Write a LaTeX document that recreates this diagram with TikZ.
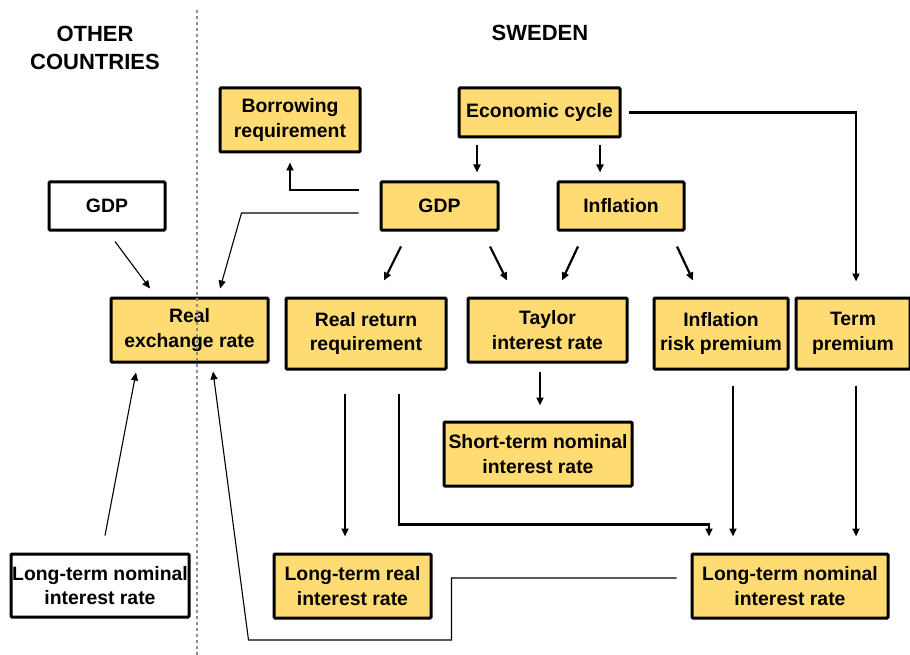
\documentclass[tikz,border=0pt]{standalone}
\usepackage{fontspec}
\setmainfont{Liberation Sans}
\newfontfamily\labelfont{Liberation Sans Bold}
\usetikzlibrary{arrows.meta}
\definecolor{boxyellow}{RGB}{255,220,115}
\definecolor{dividergray}{RGB}{140,140,140}

\begin{document}
\begin{tikzpicture}[x=1pt,y=1pt,
        box/.style={draw,line width=3pt,fill=boxyellow,rounded corners=1pt,inner sep=0pt,align=center,
            font=\labelfont\fontsize{19.4}{24.5}\selectfont},
        plainbox/.style={box,fill=white},
        heading/.style={align=center,font=\labelfont\fontsize{22}{28}\selectfont},
        arr/.style={line width=2.2pt,-{Triangle[length=8pt,width=7pt]}},
        thinarr/.style={line width=1.1pt,-{Triangle[length=8pt,width=7pt]}}]
                \useasboundingbox (0,0) rectangle (910,-655);

                \coordinate (DividerTop) at (197,-10);
                \coordinate (DividerBottom) at (197,-655);

                \node[heading] (OtherHeading) at (95,-48) {OTHER\\COUNTRIES};
                \node[heading] (SwedenHeading) at (540,-33) {SWEDEN};

                \node[box,minimum width=140pt,minimum height=64pt] (Borrowing) at (290,-120) {Borrowing\\requirement};
                \node[box,minimum width=161pt,minimum height=49pt] (EconomicCycle) at (539.5,-112.5) {Economic cycle};
                \node[plainbox,minimum width=116pt,minimum height=48pt] (OtherGDP) at (107,-206) {GDP};
                \node[box,minimum width=117pt,minimum height=48pt] (SwedenGDP) at (439.5,-206) {GDP};
                \node[box,minimum width=126pt,minimum height=48pt] (Inflation) at (621,-206) {Inflation};
                \node[box,minimum width=157pt,minimum height=64pt] (RealExchange) at (189.5,-330) {Real\\exchange rate};
                \node[box,minimum width=160pt,minimum height=71pt] (RealReturn) at (366,-333.5) {Real return\\requirement};
                \node[box,minimum width=159pt,minimum height=64pt] (Taylor) at (547.5,-330) {Taylor\\interest rate};
                \node[box,minimum width=134pt,minimum height=71pt] (InflationRisk) at (721,-333.5) {Inflation\\risk premium};
                \node[box,minimum width=114pt,minimum height=71pt] (TermPremium) at (853,-333.5) {Term\\premium};
                \node[box,minimum width=188pt,minimum height=64pt] (ShortTerm) at (538,-454) {Short-term nominal\\interest rate};
                \node[box,minimum width=157pt,minimum height=64pt] (LongReal) at (352.5,-586) {Long-term real\\interest rate};
                \node[box,minimum width=196pt,minimum height=64pt] (LongNominal) at (790,-586) {Long-term nominal\\interest rate};
                \node[plainbox,minimum width=178pt,minimum height=63pt] (OtherLongNominal) at (100,-585.5) {Long-term nominal\\interest rate};

                \draw[dividergray,line width=1.2pt,dash pattern=on 3pt off 3pt] (DividerTop)--(DividerBottom);

                \draw[arr] ([xshift=-62.5pt,yshift=-7pt]EconomicCycle.south)--([xshift=37.5pt,yshift=8pt]SwedenGDP.north);
                \draw[arr] ([xshift=60.5pt,yshift=-7pt]EconomicCycle.south)--([xshift=-21pt,yshift=8pt]Inflation.north);
                \draw[arr] ([xshift=7pt]EconomicCycle.east)-|([xshift=3pt,yshift=15pt]TermPremium.north);
                \draw[arr] ([xshift=-21pt,yshift=16pt]SwedenGDP.west)-|([yshift=-9pt]Borrowing.south);
                \draw[thinarr] ([xshift=-21pt,yshift=-7pt]SwedenGDP.west)--++(-117,0)--([xshift=30.5pt,yshift=8pt]RealExchange.north);
                \draw[thinarr] ([xshift=8pt,yshift=-10pt]OtherGDP.south)--([xshift=-39.5pt,yshift=8pt]RealExchange.north);
                \draw[arr] ([xshift=-38.5pt,yshift=-15pt]SwedenGDP.south)--([xshift=18pt,yshift=16pt]RealReturn.north);
                \draw[arr] ([xshift=50.5pt,yshift=-15pt]SwedenGDP.south)--([xshift=-40.5pt,yshift=16pt]Taylor.north);
                \draw[arr] ([xshift=-43pt,yshift=-15pt]Inflation.south)--([xshift=14.5pt,yshift=16pt]Taylor.north);
                \draw[arr] ([xshift=56pt,yshift=-15pt]Inflation.south)--([xshift=-28pt,yshift=16pt]InflationRisk.north);
                \draw[arr] ([xshift=-7.5pt,yshift=-8pt]Taylor.south)--([xshift=2pt,yshift=15pt]ShortTerm.north);
                \draw[arr] ([xshift=-21pt,yshift=-23pt]RealReturn.south)--([xshift=-7.5pt,yshift=16pt]LongReal.north);
                \draw[arr] ([xshift=33pt,yshift=-23pt]RealReturn.south)--++(0,-131)-|([xshift=-81pt,yshift=16pt]LongNominal.north);
                \draw[arr] ([xshift=12pt,yshift=-15pt]InflationRisk.south)--([xshift=-57pt,yshift=16pt]LongNominal.north);
                \draw[arr] ([xshift=3pt,yshift=-15pt]TermPremium.south)--([xshift=66pt,yshift=16pt]LongNominal.north);
                \draw[thinarr] ([xshift=-14pt,yshift=8pt]LongNominal.west)--++(-225,0)--++(0,-62)--++(-203,0)--([xshift=23.5pt,yshift=-8pt]RealExchange.south);
                \draw[thinarr] ([xshift=5pt,yshift=17pt]OtherLongNominal.north)--([xshift=-53.5pt,yshift=-9pt]RealExchange.south);
            \end{tikzpicture}
\end{document}
